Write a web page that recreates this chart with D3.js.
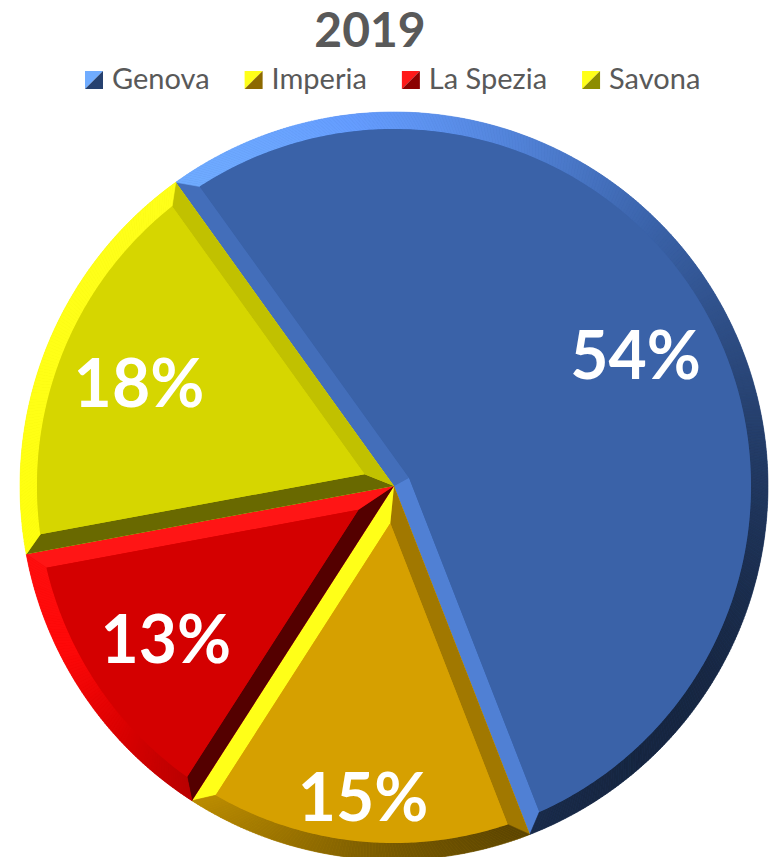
<!DOCTYPE html>
<html>
<head>
<meta charset="utf-8">
<script src="https://cdn.jsdelivr.net/npm/d3@7"></script>
<style>
  body { margin: 0; background: #fff; }
  svg { display: block; font-family: Lato, "Open Sans", sans-serif; }
</style>
</head>
<body>
<div id="chart"></div>
<script>
const title = '2019'
const categories = ['Genova', 'Imperia', 'La Spezia', 'Savona']
const values = [54, 15, 13, 18]
const labels = ['54%', '15%', '13%', '18%']
const faceColors = ['#3A62A8', '#D6A000', '#D40000', '#D6D600']

const width = 769
const height = 857
const cx = 394, cy = 486
const radius = 374
const bevel = 17
const deg = Math.PI / 180
const light = [-Math.SQRT1_2, -Math.SQRT1_2]
// label distance from centre, as share of the radius
const labelR = { 'Imperia': 0.835 }

const svg = d3.select('#chart').append('svg')
    .attr('width', width)
    .attr('height', height)

// lighten / darken a face colour for a bevel facing (nx, ny)
function shade(hex, s) {
    const c = d3.rgb(hex)
    const f = s >= 0 ? v => v * (1 + 0.5 * s) + 25 * s : v => v * (1 + 0.62 * s)
    return d3.rgb(f(c.r), f(c.g), f(c.b)).formatHex()
}
const lit = (nx, ny) => nx * light[0] + ny * light[1]
const pt = (a, r) => [r * Math.sin(a), -r * Math.cos(a)]

// title
svg.append('text')
    .attr('x', 370).attr('y', 47)
    .attr('text-anchor', 'middle')
    .attr('font-size', 48).attr('font-weight', 700)
    .attr('fill', '#595959')
    .text(title)

// legend
const legend = svg.append('g').attr('transform', 'translate(0,80)')
const items = legend.selectAll('g').data(categories).join('g')
const sq = 18
items.append('text')
    .attr('x', 27).attr('y', 9)
    .attr('font-size', 29)
    .attr('fill', '#595959')
    .text(d => d)
items.append('path')
    .attr('d', `M0,${-sq/2}L0,${sq/2}L${sq},${-sq/2}Z`)
    .attr('fill', (d, i) => shade(faceColors[i], 1))
items.append('path')
    .attr('d', `M${sq},${-sq/2}L${sq},${sq/2}L0,${sq/2}Z`)
    .attr('fill', (d, i) => shade(faceColors[i], -0.55))
let lx = 85
items.each(function() {
    const w = this.querySelector('text').getComputedTextLength()
    d3.select(this).attr('transform', `translate(${lx},0)`)
    lx += 27 + w + 35
})

// pie
const pie = d3.pie().sort(null)
    .startAngle(-35.7 * deg)
    .endAngle(324.3 * deg)
const arcs = pie(values)
const g = svg.append('g').attr('transform', `translate(${cx},${cy})`)
const line = d3.line()

arcs.forEach((a, i) => {
    const col = faceColors[i]
    const t0 = a.startAngle, t1 = a.endAngle
    const ri = radius - bevel
    const off = Math.asin(bevel / ri)
    const f0 = t0 + off, f1 = t1 - off
    const half = (t1 - t0) / 2
    const vtx = pt(t0 + half, bevel / Math.sin(half))
    const slice = g.append('g')

    // base
    slice.append('path')
        .attr('d', d3.arc().innerRadius(0).outerRadius(radius)(a))
        .attr('fill', col)

    // radial edge bevels
    const sEdge = [[0, 0], pt(t0, radius), pt(f0, ri), vtx]
    const eEdge = [[0, 0], pt(t1, radius), pt(f1, ri), vtx]
    slice.append('path').attr('d', line(sEdge) + 'Z')
        .attr('fill', shade(col, lit(-Math.cos(t0), -Math.sin(t0))))
    slice.append('path').attr('d', line(eEdge) + 'Z')
        .attr('fill', shade(col, lit(Math.cos(t1), Math.sin(t1))))

    // outer arc bevel, small steps
    const n = Math.ceil((t1 - t0) / (0.5 * deg))
    for (let k = 0; k < n; k++) {
        const a0 = t0 + (t1 - t0) * k / n, a1 = t0 + (t1 - t0) * (k + 1) / n
        const b0 = f0 + (f1 - f0) * k / n, b1 = f0 + (f1 - f0) * (k + 1) / n
        const am = (a0 + a1) / 2
        const c = shade(col, lit(Math.sin(am), -Math.cos(am)))
        slice.append('path')
            .attr('d', line([pt(a0, radius), pt(a1, radius), pt(b1, ri), pt(b0, ri)]) + 'Z')
            .attr('fill', c).attr('stroke', c).attr('stroke-width', 0.6)
    }

    // top face
    const face = [vtx]
    const m = Math.ceil((f1 - f0) / (0.5 * deg))
    for (let k = 0; k <= m; k++) face.push(pt(f0 + (f1 - f0) * k / m, ri))
    slice.append('path').attr('d', line(face) + 'Z').attr('fill', col)
})

// percentage labels
g.selectAll('text.lbl').data(arcs).join('text')
    .attr('class', 'lbl')
    .attr('transform', (d, i) => {
        const r = (labelR[categories[i]] || 0.735) * radius
        const p = pt((d.startAngle + d.endAngle) / 2, r)
        return `translate(${p[0]},${p[1]})`
    })
    .attr('text-anchor', 'middle')
    .attr('dy', '0.36em')
    .attr('font-size', 66).attr('font-weight', 700)
    .attr('fill', '#fff')
    .text((d, i) => labels[i])
</script>
</body>
</html>
